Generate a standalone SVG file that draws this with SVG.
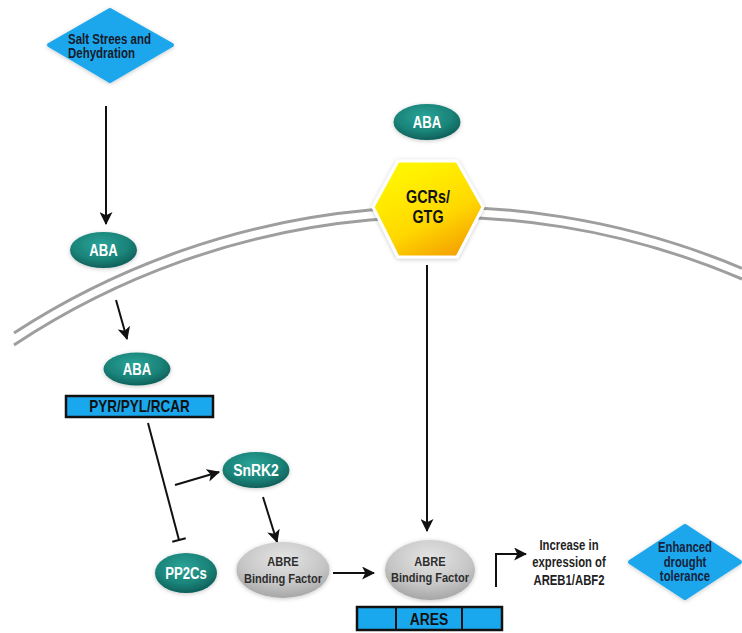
<svg xmlns="http://www.w3.org/2000/svg" width="742" height="633" viewBox="0 0 742 633">
  <defs>
    <style>
      .lbl { font-family: "Liberation Sans", Arial, sans-serif; font-weight: bold; text-anchor: middle; }
      .teal { fill: url(#tealGrad); filter: url(#shadow); }
      .teal-t { fill: #ffffff; font-size: 16px; }
      .gray { fill: url(#grayGrad); filter: url(#shadow); }
      .gray-t { fill: #2e2e2e; font-size: 13.5px; }
      .blue { fill: #1ea7ec; stroke: #1ea7ec; stroke-width: 4; stroke-linejoin: round; filter: url(#shadow); }
      .bar { fill: #19a8ee; stroke: #111111; stroke-width: 2.5; }
      .mem { fill: none; stroke: #9e9e9e; stroke-width: 3; }
      .edge { fill: none; stroke: #111111; stroke-width: 2; }
    </style>
    <radialGradient id="tealGrad" cx="0.45" cy="0.35" r="0.7">
      <stop offset="0" stop-color="#2ba397"/>
      <stop offset="0.6" stop-color="#1a8379"/>
      <stop offset="1" stop-color="#0c5853"/>
    </radialGradient>
    <radialGradient id="grayGrad" cx="0.5" cy="0.3" r="0.75">
      <stop offset="0" stop-color="#e4e4e4"/>
      <stop offset="0.6" stop-color="#c6c6c6"/>
      <stop offset="1" stop-color="#a0a0a0"/>
    </radialGradient>
    <linearGradient id="hexGrad" x1="0.3" y1="0.1" x2="0.8" y2="1">
      <stop offset="0" stop-color="#fff400"/>
      <stop offset="0.55" stop-color="#ffd800"/>
      <stop offset="1" stop-color="#f39c00"/>
    </linearGradient>
    <filter id="shadow" x="-30%" y="-30%" width="160%" height="160%">
      <feDropShadow dx="0" dy="1" stdDeviation="2" flood-color="#000000" flood-opacity="0.22"/>
    </filter>
    <marker id="arrow" viewBox="0 0 12 12" refX="11" refY="6" markerWidth="13" markerHeight="13" markerUnits="userSpaceOnUse" orient="auto">
      <path d="M0,0 L12,6 L0,12 L3,6 z" fill="#111111"/>
    </marker>
    <marker id="tbar" viewBox="0 0 4 16" refX="2" refY="8" markerWidth="4" markerHeight="16" markerUnits="userSpaceOnUse" orient="auto">
      <line x1="2" y1="1" x2="2" y2="15" stroke="#111111" stroke-width="2"/>
    </marker>
  </defs>

  <rect width="742" height="633" fill="#ffffff"/>

  <g id="membrane">
    <path class="mem" d="M14,333 A780,780 0 0,1 742,268.3"/>
    <path class="mem" d="M14,345 A770,770 0 0,1 742,279"/>
  </g>

  <g id="connectors">
    <line class="edge" x1="106" y1="106" x2="106" y2="224" marker-end="url(#arrow)"/>
    <line class="edge" x1="116" y1="300" x2="127" y2="339" marker-end="url(#arrow)"/>
    <line class="edge" x1="148" y1="423" x2="179" y2="540" marker-end="url(#tbar)"/>
    <line class="edge" x1="175" y1="485" x2="219" y2="472" marker-end="url(#arrow)"/>
    <line class="edge" x1="263" y1="497" x2="277" y2="542" marker-end="url(#arrow)"/>
    <line class="edge" x1="333" y1="573" x2="374" y2="573" marker-end="url(#arrow)"/>
    <line class="edge" x1="427" y1="265" x2="427" y2="531" marker-end="url(#arrow)"/>
    <path class="edge" d="M496,587 V554 H526" marker-end="url(#arrow)"/>
  </g>

  <g id="salt-stress">
    <polygon class="blue" points="110,10 172,45 110,81 49,45"/>
    <text class="lbl" transform="matrix(0.82 0 0 1 68 44)" style="text-anchor:start;font-size:14px;fill:#161a2a">Salt Strees and</text>
    <text class="lbl" transform="matrix(0.82 0 0 1 68 58)" style="text-anchor:start;font-size:14px;fill:#161a2a">Dehydration</text>
  </g>

  <g id="aba-outside">
    <ellipse class="teal" cx="103.5" cy="250" rx="33.5" ry="18"/>
    <text class="lbl teal-t" transform="matrix(0.82 0 0 1 103.5 255.6)">ABA</text>
  </g>

  <g id="aba-top">
    <ellipse class="teal" cx="427" cy="122" rx="33.5" ry="18"/>
    <text class="lbl teal-t" transform="matrix(0.82 0 0 1 427 127.6)">ABA</text>
  </g>

  <g id="gcrs-gtg">
    <polygon points="373,207 398,161 457,161 483,207 457,257 398,257" fill="url(#hexGrad)" stroke="#ffffff" stroke-width="3" filter="url(#shadow)"/>
    <text class="lbl" transform="matrix(0.82 0 0 1 428 203.3)" style="font-size:17.5px;fill:#111111">GCRs/</text>
    <text class="lbl" transform="matrix(0.82 0 0 1 428 223.3)" style="font-size:17.5px;fill:#111111">GTG</text>
  </g>

  <g id="aba-inside">
    <ellipse class="teal" cx="137" cy="369" rx="33.5" ry="16.5"/>
    <text class="lbl teal-t" transform="matrix(0.82 0 0 1 137 374.6)">ABA</text>
  </g>

  <g id="pyr-pyl-rcar">
    <rect class="bar" x="66" y="396" width="147" height="21"/>
    <text class="lbl" transform="matrix(0.82 0 0 1 139.5 412.4)" style="font-size:16.5px;fill:#111111">PYR/PYL/RCAR</text>
  </g>

  <g id="snrk2">
    <ellipse class="teal" cx="256" cy="470" rx="33.5" ry="18"/>
    <text class="lbl teal-t" transform="matrix(0.82 0 0 1 256 476)" style="font-size:17px">SnRK2</text>
  </g>

  <g id="pp2cs">
    <ellipse class="teal" cx="186" cy="573" rx="31" ry="20"/>
    <text class="lbl teal-t" transform="matrix(0.82 0 0 1 186 578.7)" style="font-size:16px">PP2Cs</text>
  </g>

  <g id="abre-bf-1">
    <ellipse class="gray" cx="283" cy="570" rx="46.5" ry="28"/>
    <text class="lbl gray-t" transform="matrix(0.82 0 0 1 283 565.8)">ABRE</text>
    <text class="lbl gray-t" transform="matrix(0.82 0 0 1 283 582.8)">Binding Factor</text>
  </g>

  <g id="abre-bf-2">
    <ellipse class="gray" cx="430" cy="570" rx="45" ry="30"/>
    <text class="lbl gray-t" transform="matrix(0.82 0 0 1 430 565.8)">ABRE</text>
    <text class="lbl gray-t" transform="matrix(0.82 0 0 1 430 581.8)">Binding Factor</text>
  </g>

  <g id="ares">
    <rect class="bar" x="357" y="607" width="145" height="23"/>
    <line x1="396" y1="607" x2="396" y2="630" stroke="#111111" stroke-width="2"/>
    <line x1="462" y1="607" x2="462" y2="630" stroke="#111111" stroke-width="2"/>
    <text class="lbl" transform="matrix(0.82 0 0 1 429 624.5)" style="font-size:17px;fill:#111111">ARES</text>
  </g>

  <g id="increase-expression">
    <text class="lbl" transform="matrix(0.82 0 0 1 569 550)" style="font-size:13.8px;fill:#1e1e1e">Increase in</text>
    <text class="lbl" transform="matrix(0.82 0 0 1 569 567)" style="font-size:13.8px;fill:#1e1e1e">expression of</text>
    <text class="lbl" transform="matrix(0.82 0 0 1 569 585)" style="font-size:13.8px;fill:#1e1e1e">AREB1/ABF2</text>
  </g>

  <g id="enhanced-drought">
    <polygon class="blue" points="685,526 740,562 685,598 630,562"/>
    <text class="lbl" transform="matrix(0.82 0 0 1 685 552)" style="font-size:13.8px;fill:#17223d">Enhanced</text>
    <text class="lbl" transform="matrix(0.82 0 0 1 685 567)" style="font-size:13.8px;fill:#17223d">drought</text>
    <text class="lbl" transform="matrix(0.82 0 0 1 685 581)" style="font-size:13.8px;fill:#17223d">tolerance</text>
  </g>
</svg>
